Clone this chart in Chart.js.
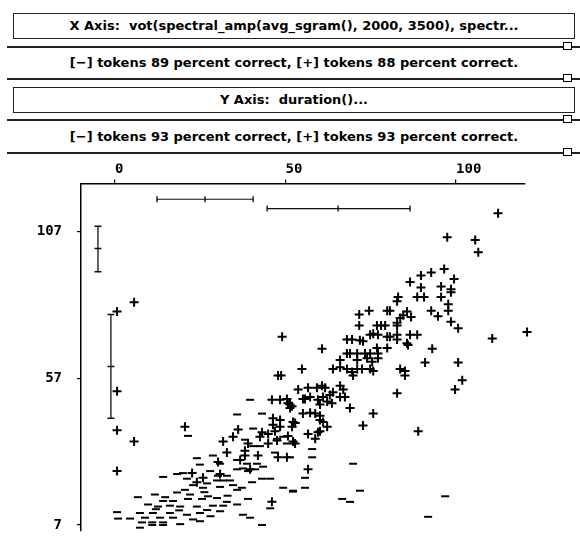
<!DOCTYPE html>
<html>
<head>
<meta charset="utf-8">
<script src="https://cdn.jsdelivr.net/npm/chart.js@4/dist/chart.umd.min.js"></script>
<style>
    body { margin: 0; width: 580px; height: 554px; background: #fff; position: relative; overflow: hidden;
           font-family: "DejaVu Sans", sans-serif; font-weight: bold; font-size: 13px; color: #000; }
    .box { position: absolute; left: 13px; width: 560px; height: 24px; border: 1px solid #222;
           text-align: center; line-height: 24px; }
    .row { position: absolute; left: 13px; width: 562px; text-align: center; }
    .rule { position: absolute; left: 7px; width: 573px; height: 2px; background: #222; }
    .knob { position: absolute; left: 563px; width: 7px; height: 6px; border: 1.5px solid #000; background: #fff; }
    #chartWrap { position: absolute; left: 0; top: 160px; width: 580px; height: 394px; }
</style>
</head>
<body>
<div class="box" style="top:13px">X Axis:&nbsp; vot(spectral_amp(avg_sgram(), 2000, 3500), spectr...</div>
<div class="rule" style="top:46px"></div><div class="knob" style="top:42px"></div>
<div class="row" style="top:55px">[−] tokens 89 percent correct, [+] tokens 88 percent correct.</div>
<div class="rule" style="top:78px"></div><div class="knob" style="top:74px"></div>
<div class="box" style="top:87px">Y Axis:&nbsp; duration()...</div>
<div class="rule" style="top:119px"></div><div class="knob" style="top:115px"></div>
<div class="row" style="top:129px">[−] tokens 93 percent correct, [+] tokens 93 percent correct.</div>
<div class="rule" style="top:152px"></div><div class="knob" style="top:148px"></div>
<div id="chartWrap"><canvas id="scatter"></canvas></div>
<script>
// tick labels
const xTicks = [0, 50, 100];
const yTicks = [7, 57, 107];

// [+] tokens
const plusX = [112.3, 97.4, 105.6, 106.5, 96.5, 92.7, 89.7, 86.5, 99.4, 89.7, 95.6, 98.5, 98.5, 83.0, 82.7,
    88.6, 90.6, 95.6, 97.7, 97.7, 92.7, 94.7, 98.5, 100.6, 71.6, 74.5, 79.8, 80.6, 85.6, 84.5, 83.6, 86.8,
    71.6, 76.8, 78.0, 79.2, 82.7, 82.7, 120.8, 110.6, 49.0, 68.0, 69.5, 71.8, 72.7, 74.8, 75.7, 77.1, 79.8,
    80.6, 82.7, 82.7, 86.5, 88.6, 85.6, 85.9, 93.0, 60.7, 68.0, 68.9, 71.0, 73.3, 74.8, 77.1, 76.8, 79.8,
    66.0, 71.0, 73.9, 75.4, 77.1, 54.8, 63.9, 66.0, 68.0, 69.5, 71.0, 72.4, 74.8, 75.7, 69.8, 83.6, 85.0,
    85.0, 90.9, 100.6, 101.8, 99.7, 82.7, 68.9, 75.7, 72.7, 88.9, 53.7, 56.6, 59.2, 60.7, 61.6, 66.0, 66.9,
    63.9, 63.0, 61.0, 67.4, 55.1, 57.2, 59.5, 62.2, 63.6, 60.1, 51.3, 51.3, 55.1, 57.2, 58.7, 60.1, 61.0,
    60.1, 52.2, 56.6, 59.5, 58.7, 52.2, 47.8, 48.7, 46.0, 48.4, 50.4, 50.7, 51.9, 55.7, 66.0, 20.5, 46.3,
    48.4, 48.4, 46.3, 52.8, 51.9, 62.2, 36.1, 43.1, 42.5, 44.9, 46.9, 44.9, 47.5, 50.7, 52.8, 34.6, 31.7,
    39.0, 60.1, 32.8, 38.1, 38.1, 41.9, 47.8, 50.4, 30.2, 36.7, 39.6, 56.6, 22.6, 25.8, 30.8, 0.6, 5.6,
    0.6, 46.0, 5.6, 0.6, 0.6, 24.0];
const plusY = [113.3, 105.1, 104.2, 100.0, 94.3, 93.1, 92.1, 89.9, 90.9, 88.0, 88.3, 87.4, 86.4, 84.8, 83.3,
    84.8, 84.8, 84.8, 82.3, 80.1, 80.1, 78.2, 76.3, 74.1, 78.8, 80.1, 80.1, 80.1, 79.8, 78.5, 77.6, 77.9,
    75.0, 75.0, 75.0, 75.0, 76.0, 75.0, 72.8, 70.6, 71.2, 70.3, 70.3, 70.0, 69.7, 71.9, 72.2, 71.9, 71.2,
    71.2, 71.9, 70.3, 71.9, 71.9, 69.0, 68.4, 67.1, 67.1, 65.5, 65.5, 65.5, 65.5, 65.5, 65.5, 67.4, 67.4,
    63.3, 63.3, 63.9, 62.7, 63.9, 60.2, 60.2, 60.8, 60.2, 59.2, 60.2, 60.2, 60.2, 59.5, 58.0, 60.2, 59.5,
    58.0, 62.4, 62.4, 56.4, 53.2, 51.9, 46.9, 45.0, 40.9, 39.0, 53.2, 53.8, 53.8, 54.5, 53.8, 54.5, 53.2,
    52.3, 51.3, 50.7, 50.7, 50.0, 50.7, 49.7, 49.1, 48.5, 48.1, 48.1, 46.9, 45.0, 45.3, 45.0, 44.3, 42.1,
    42.8, 42.1, 38.0, 38.6, 36.4, 35.5, 58.0, 58.0, 49.7, 49.7, 50.0, 48.5, 47.5, 50.0, 50.7, 40.5, 43.4,
    42.8, 40.5, 41.2, 41.8, 40.5, 40.5, 39.6, 38.6, 37.1, 38.0, 39.0, 34.8, 35.8, 37.4, 34.8, 37.1, 35.5,
    34.8, 39.0, 31.7, 32.3, 30.7, 30.7, 30.1, 30.1, 28.5, 29.2, 26.0, 26.0, 24.7, 23.1, 24.4, 39.3, 35.5,
    25.4, 14.9, 83.0, 79.8, 52.6, 21.6];

// [-] tokens
const minusX = [35.8, 43.1, 21.4, 40.5, 38.1, 40.5, 42.5, 47.5, 49.3, 50.4, 46.9, 24.0, 24.9, 28.7, 30.8,
    35.8, 38.7, 41.6, 43.4, 41.1, 39.0, 18.2, 19.9, 14.1, 21.1, 27.9, 30.2, 32.8, 35.8, 37.5, 29.9, 31.7,
    33.7, 22.9, 27.0, 25.8, 30.8, 34.6, 35.8, 37.2, 40.2, 43.1, 49.3, 52.2, 45.5, 6.7, 11.7, 14.7, 18.2,
    22.0, 14.1, 17.0, 21.4, 25.5, 27.3, 29.9, 32.8, 39.0, 35.8, 9.7, 12.6, 16.1, 19.1, 24.0, 28.7, 31.7,
    27.0, 0.6, 7.3, 11.1, 16.1, 21.1, 24.9, 30.8, 37.5, 39.6, 45.5, 0.9, 4.4, 8.8, 13.2, 17.0, 22.9, 7.9,
    10.9, 14.1, 19.1, 24.9, 7.3, 10.9, 14.1, 43.1, 57.8, 57.8, 69.8, 55.7, 55.7, 52.2, 71.8, 66.6, 68.9,
    96.8, 91.8, 51.3, 39.6, 26.2, 33.0, 18.8, 28.0, 12.0, 20.5];
const minusY = [44.7, 45.0, 37.4, 39.9, 36.1, 33.9, 33.9, 36.4, 37.1, 34.8, 31.7, 29.8, 27.6, 30.7, 27.9,
    29.2, 27.9, 27.9, 26.9, 26.0, 25.4, 24.4, 24.7, 23.4, 22.8, 25.4, 23.8, 23.8, 26.0, 26.3, 22.2, 22.2,
    22.2, 20.6, 21.2, 19.7, 20.0, 20.6, 19.0, 19.7, 21.6, 22.8, 19.7, 18.4, 22.8, 16.5, 17.4, 16.5, 18.1,
    17.4, 15.2, 15.2, 15.9, 15.9, 16.8, 16.2, 14.9, 15.9, 14.0, 14.0, 13.3, 13.6, 13.3, 13.3, 13.6, 13.6,
    12.1, 11.4, 11.1, 11.1, 11.1, 10.5, 11.1, 11.7, 10.5, 9.5, 12.7, 9.2, 9.2, 9.5, 9.5, 9.5, 8.9, 7.9,
    7.9, 7.9, 7.3, 8.3, 6.1, 7.0, 7.0, 7.0, 32.9, 30.1, 27.9, 23.1, 19.7, 18.7, 18.7, 15.9, 14.9,
    16.8, 9.8, 30.1, 49.7, 18.2, 17.0, 12.0, 10.0, 12.4, 19.0];

// horizontal error bars (spread along x)
const xErrLo = [12.3, 44.6];
const xErrMid = [26.4, 65.4];
const xErrHi = [40.5, 86.5];
const xErrY = [118.1, 114.9];

// vertical error bars (spread along y)
const yErrX = [-5.0, -1.2];
const yErrLo = [93.4, 43.4];
const yErrMid = [101.3, 61.1];
const yErrHi = [108.9, 78.8];

const toPoints = (xs, ys) => xs.map((x, i) => ({ x: x, y: ys[i] }));

const datasets = [
    {
        label: '+',
        data: toPoints(plusX, plusY),
        pointStyle: 'cross',
        pointRadius: 4.5,
        borderColor: '#000',
        borderWidth: 2,
        clip: false
    },
    {
        label: '-',
        data: toPoints(minusX, minusY),
        pointStyle: 'line',
        pointRadius: 4,
        borderColor: '#000',
        borderWidth: 2,
        clip: false
    }
];

xErrY.forEach((y, i) => {
    datasets.push({
        type: 'line',
        data: [{ x: xErrLo[i], y: y }, { x: xErrMid[i], y: y }, { x: xErrHi[i], y: y }],
        borderColor: '#111',
        borderWidth: 1.2,
        pointStyle: 'line',
        pointRotation: 90,
        pointRadius: 3,
        pointBorderWidth: 1.4,
        fill: false
    });
});

yErrX.forEach((x, i) => {
    datasets.push({
        type: 'line',
        data: [{ x: x, y: yErrLo[i] }, { x: x, y: yErrMid[i] }, { x: x, y: yErrHi[i] }],
        borderColor: '#111',
        borderWidth: 1.3,
        pointStyle: 'line',
        pointRadius: 3.5,
        pointBorderWidth: 1.5,
        fill: false
    });
});

const tickFont = { family: '"DejaVu Sans Mono", monospace', size: 14, weight: 'bold' };

new Chart(document.getElementById('scatter'), {
    type: 'scatter',
    data: { datasets: datasets },
    options: {
        responsive: true,
        maintainAspectRatio: false,
        animation: false,
        events: [],
        layout: { padding: { left: 0, right: 55, top: 0, bottom: 0 } },
        plugins: { legend: { display: false }, tooltip: { enabled: false } },
        scales: {
            x: {
                type: 'linear',
                position: 'top',
                min: -9.97,
                max: 120.2,
                afterBuildTicks: scale => { scale.ticks = xTicks.map(v => ({ value: v })); },
                afterFit: scale => { scale.height = 20; },
                ticks: { align: 'start', padding: 2, color: '#000', font: tickFont },
                grid: { drawOnChartArea: false, tickLength: 4, color: '#000', lineWidth: 1.2 },
                border: { color: '#000', width: 1.5 }
            },
            y: {
                type: 'linear',
                min: 5.1,
                max: 123.5,
                afterBuildTicks: scale => { scale.ticks = yTicks.map(v => ({ value: v })); },
                afterFit: scale => { scale.width = 81; },
                ticks: { padding: 15, color: '#000', font: tickFont },
                grid: { drawOnChartArea: false, tickLength: 4, color: '#000', lineWidth: 1.2 },
                border: { color: '#000', width: 1.5 }
            }
        }
    }
});
</script>
</body>
</html>
